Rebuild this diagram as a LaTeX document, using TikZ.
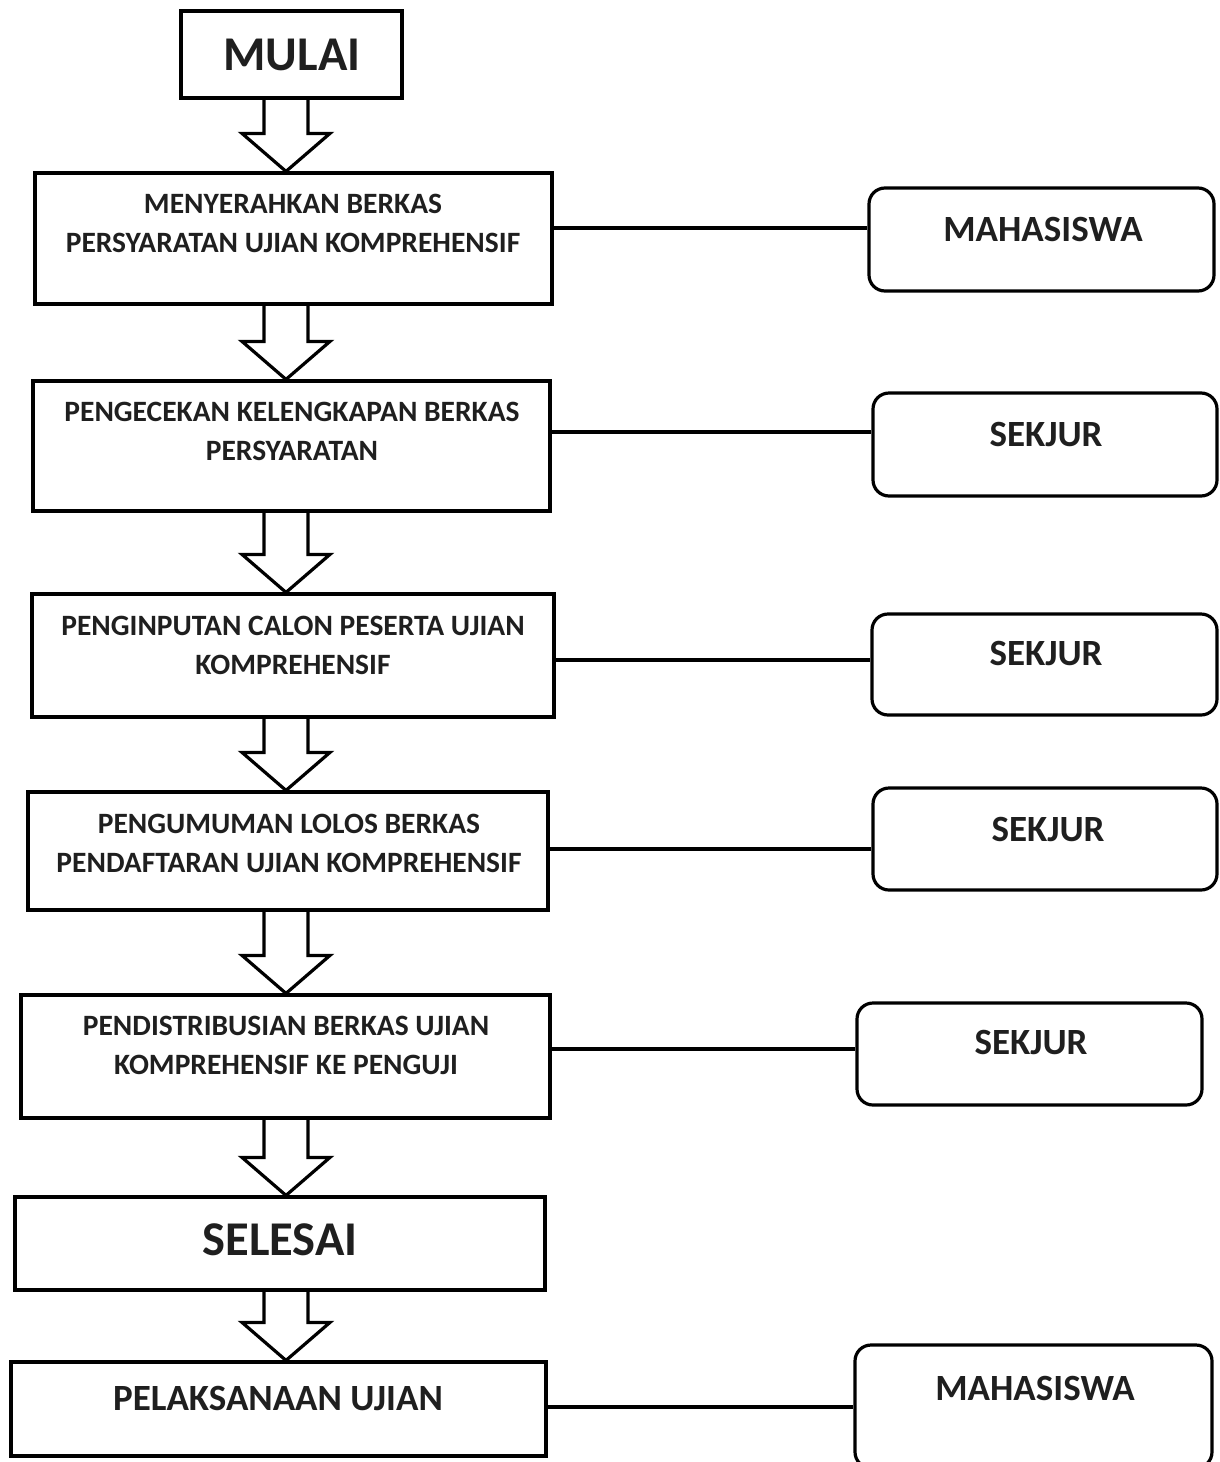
\documentclass[tikz,border=0pt]{standalone}
\usepackage{fontspec}
\setmainfont{Carlito}
\usetikzlibrary{calc}

\tikzset{
  stepbox/.style={draw, line width=3.2pt, rectangle, inner sep=0pt},
  rolebox/.style={draw, line width=3.2pt, rectangle, rounded corners=16pt, inner sep=0pt},
  steptext/.style={inner sep=0pt, align=center, text=black!88, font=\bfseries\fontsize{29.5}{39}\selectfont},
  bigtext/.style={inner sep=0pt, text=black!88, font=\bfseries\fontsize{48.5}{54}\selectfont},
  roletext/.style={inner sep=0pt, text=black!88, font=\bfseries\fontsize{37}{42}\selectfont},
  link/.style={line width=3.2pt},
  hollow/.style={line width=3.2pt, line join=miter}
}

% hollow arrow from the bottom of one box to the top of the next
\newcommand{\hollowdown}[2]{%
  \draw[hollow] let \p1=(#1.south), \p2=(#2.north) in
    (264pt,\y1) -- (264pt,\y2+38pt) -- (242pt,\y2+38pt) -- (286pt,\y2)
    -- (330pt,\y2+38pt) -- (308pt,\y2+38pt) -- (308pt,\y1);
}

\begin{document}
\begin{tikzpicture}[x=1pt,y=-1pt]
\useasboundingbox (0,0) rectangle (1220,1462);

% start
\node[stepbox, minimum width=221, minimum height=87] (mulai) at (291.5,54.5) {};
\node[bigtext] (mulaitxt) at (292,55) {MULAI};

% steps
\node[stepbox, minimum width=517, minimum height=131] (s1) at (293.5,238.5) {};
\node[steptext] (s1txt) at (293,223.5) {MENYERAHKAN BERKAS\\PERSYARATAN UJIAN KOMPREHENSIF};

\node[stepbox, minimum width=517, minimum height=130] (s2) at (291.5,446) {};
\node[steptext] (s2txt) at (292,431.5) {PENGECEKAN KELENGKAPAN BERKAS\\PERSYARATAN};

\node[stepbox, minimum width=522, minimum height=123] (s3) at (293,655.5) {};
\node[steptext] (s3txt) at (293,645) {PENGINPUTAN CALON PESERTA UJIAN\\KOMPREHENSIF};

\node[stepbox, minimum width=520, minimum height=118] (s4) at (288,851) {};
\node[steptext] (s4txt) at (289,843) {PENGUMUMAN LOLOS BERKAS\\PENDAFTARAN UJIAN KOMPREHENSIF};

\node[stepbox, minimum width=529, minimum height=123] (s5) at (285.5,1056.5) {};
\node[steptext] (s5txt) at (286,1045) {PENDISTRIBUSIAN BERKAS UJIAN\\KOMPREHENSIF KE PENGUJI};

\node[stepbox, minimum width=530, minimum height=93] (selesai) at (280,1243.5) {};
\node[bigtext] (selesaitxt) at (280,1240) {SELESAI};

\node[stepbox, minimum width=535, minimum height=94] (s7) at (278.5,1409) {};
\node[roletext] (s7txt) at (278,1398) {PELAKSANAAN UJIAN};

% roles
\node[rolebox, minimum width=345, minimum height=103] (r1) at (1041.5,239.5) {};
\node[roletext] (r1txt) at (1043,229) {MAHASISWA};

\node[rolebox, minimum width=344, minimum height=103] (r2) at (1045,444.5) {};
\node[roletext] (r2txt) at (1046,434) {SEKJUR};

\node[rolebox, minimum width=345, minimum height=101] (r3) at (1044.5,664.5) {};
\node[roletext] (r3txt) at (1046,653) {SEKJUR};

\node[rolebox, minimum width=344, minimum height=102] (r4) at (1045,839) {};
\node[roletext] (r4txt) at (1048,829) {SEKJUR};

\node[rolebox, minimum width=345, minimum height=102] (r5) at (1029.5,1054) {};
\node[roletext] (r5txt) at (1031,1042) {SEKJUR};

\node[rolebox, minimum width=357, minimum height=123] (r6) at (1033.5,1406.5) {};
\node[roletext] (r6txt) at (1035,1388) {MAHASISWA};

% arrows
\hollowdown{mulai}{s1}
\hollowdown{s1}{s2}
\hollowdown{s2}{s3}
\hollowdown{s3}{s4}
\hollowdown{s4}{s5}
\hollowdown{s5}{selesai}
\hollowdown{selesai}{s7}

% links to roles
\draw[link] ([yshift=10.5]s1.east) -- ([yshift=10.5]s1.east -| r1.west);
\draw[link] ([yshift=14]s2.east) -- ([yshift=14]s2.east -| r2.west);
\draw[link] ([yshift=-4.5]s3.east) -- ([yshift=-4.5]s3.east -| r3.west);
\draw[link] ([yshift=2]s4.east) -- ([yshift=2]s4.east -| r4.west);
\draw[link] ([yshift=7.5]s5.east) -- ([yshift=7.5]s5.east -| r5.west);
\draw[link] ([yshift=2]s7.east) -- ([yshift=2]s7.east -| r6.west);

\end{tikzpicture}
\end{document}
